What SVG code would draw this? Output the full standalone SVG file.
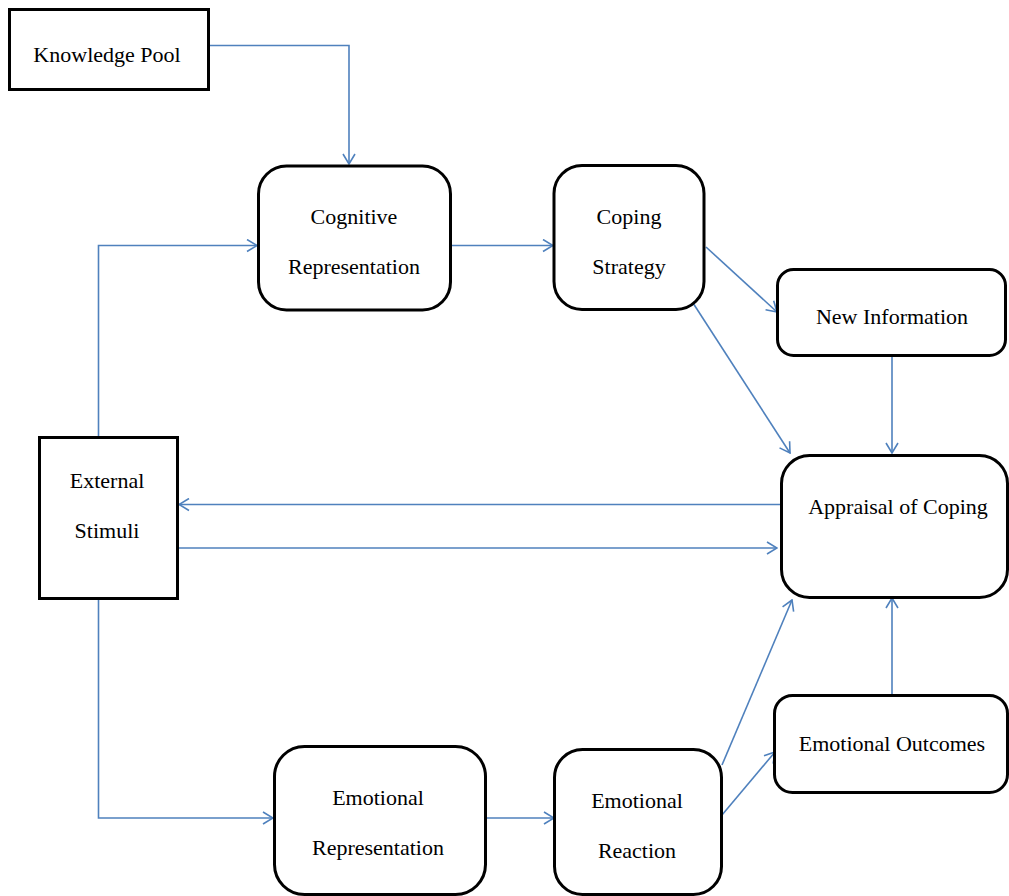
<svg xmlns="http://www.w3.org/2000/svg" width="1009" height="896" viewBox="0 0 1009 896">
<style>
.box{fill:#fff;stroke:#000;stroke-width:3}
.t{font-family:"Liberation Serif","Times New Roman",serif;font-size:22px;fill:#000;text-anchor:middle}
.c{fill:none;stroke:#4F81BD;stroke-width:1.6}
</style>
<defs>
<marker id="a" viewBox="0 0 12 14" refX="11" refY="7" markerWidth="12" markerHeight="14" markerUnits="userSpaceOnUse" orient="auto">
<path d="M1,1 L11,7 L1,13" fill="none" stroke="#4F81BD" stroke-width="1.6"/>
</marker>
</defs>
<rect width="1009" height="896" fill="#fff"/>
<g id="connectors">
<path class="c" d="M209,45.5 H349 V164" marker-end="url(#a)"/>
<path class="c" d="M98.5,437 V245.5 H257" marker-end="url(#a)"/>
<path class="c" d="M451,245.5 H553" marker-end="url(#a)"/>
<path class="c" d="M706,247 L777,312" marker-end="url(#a)"/>
<path class="c" d="M693,303 L790,453" marker-end="url(#a)"/>
<path class="c" d="M892,356 V453" marker-end="url(#a)"/>
<path class="c" d="M781,504.5 H179" marker-end="url(#a)"/>
<path class="c" d="M177,548 H777" marker-end="url(#a)"/>
<path class="c" d="M98.5,598 V818 H273" marker-end="url(#a)"/>
<path class="c" d="M486,818 H554" marker-end="url(#a)"/>
<path class="c" d="M722,765 L792,600" marker-end="url(#a)"/>
<path class="c" d="M722,815 L775,752" marker-end="url(#a)"/>
<path class="c" d="M892,695 V598" marker-end="url(#a)"/>
</g>
<g id="knowledge-pool">
<rect class="box" x="9.5" y="9.5" width="199" height="80"/>
<text class="t" x="107" y="62">Knowledge Pool</text>
</g>
<g id="cognitive-representation">
<rect class="box" x="258.5" y="166" width="192" height="144" rx="28"/>
<text class="t" x="354" y="224">Cognitive</text>
<text class="t" x="354" y="274">Representation</text>
</g>
<g id="coping-strategy">
<rect class="box" x="554" y="165.5" width="150" height="144" rx="28"/>
<text class="t" x="629" y="224">Coping</text>
<text class="t" x="629" y="274">Strategy</text>
</g>
<g id="new-information">
<rect class="box" x="777.5" y="269.5" width="228" height="86" rx="16"/>
<text class="t" x="892" y="324">New Information</text>
</g>
<g id="appraisal-of-coping">
<rect class="box" x="781.5" y="455.5" width="226" height="142" rx="28"/>
<text class="t" x="898" y="514">Appraisal of Coping</text>
</g>
<g id="external-stimuli">
<rect class="box" x="39.5" y="437.5" width="138" height="161"/>
<text class="t" x="107" y="488">External</text>
<text class="t" x="107" y="538">Stimuli</text>
</g>
<g id="emotional-representation">
<rect class="box" x="274.5" y="746.5" width="211" height="148" rx="30"/>
<text class="t" x="378" y="805">Emotional</text>
<text class="t" x="378" y="855">Representation</text>
</g>
<g id="emotional-reaction">
<rect class="box" x="554.5" y="749.5" width="167" height="145" rx="28"/>
<text class="t" x="637" y="808">Emotional</text>
<text class="t" x="637" y="858">Reaction</text>
</g>
<g id="emotional-outcomes">
<rect class="box" x="774.5" y="695.5" width="233" height="97" rx="18"/>
<text class="t" x="892" y="751">Emotional Outcomes</text>
</g>
</svg>
